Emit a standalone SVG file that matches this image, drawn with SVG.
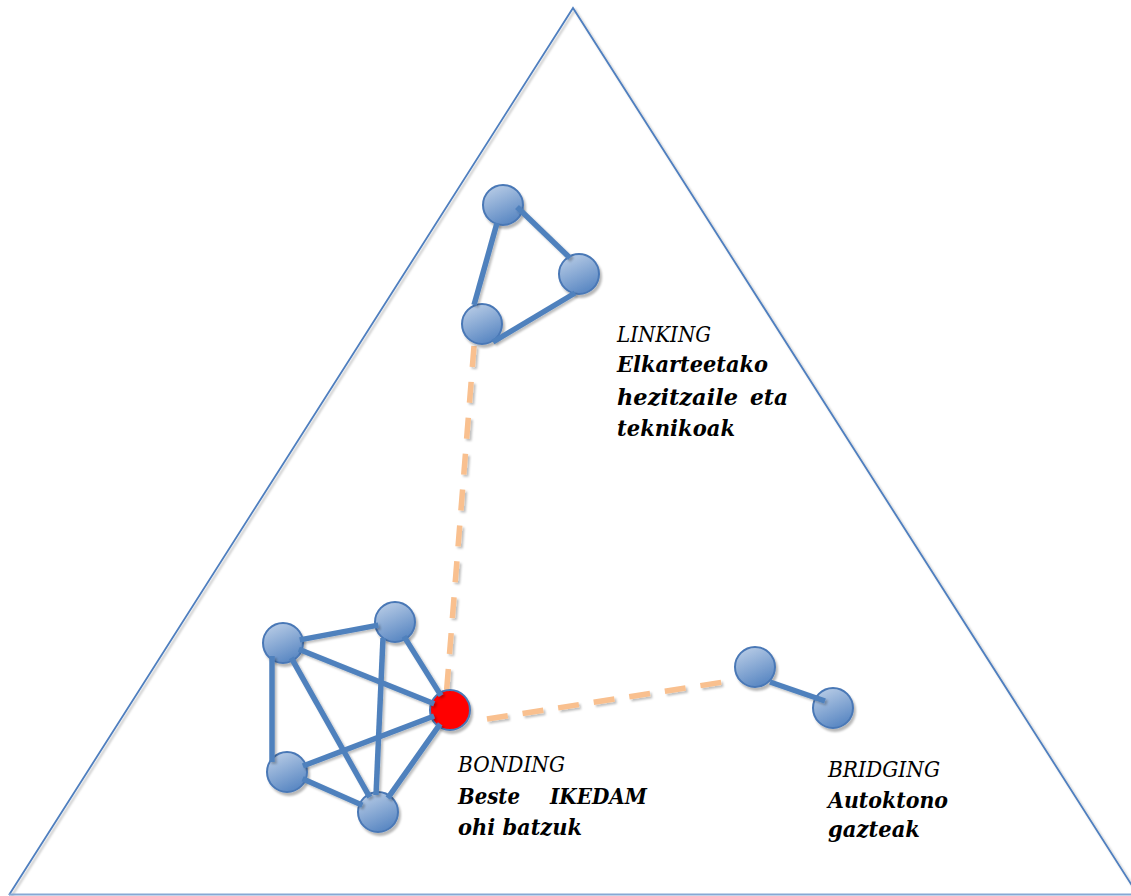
<svg xmlns="http://www.w3.org/2000/svg" width="1131" height="896" viewBox="0 0 1131 896">
  <defs>
    <linearGradient id="ball" x1="0.25" y1="0" x2="0.7" y2="1">
      <stop offset="0" stop-color="#b8cce6"/>
      <stop offset="1" stop-color="#5584c1"/>
    </linearGradient>
    <filter id="sh" x="-30%" y="-30%" width="160%" height="160%">
      <feDropShadow dx="2" dy="3" stdDeviation="1" flood-color="#000" flood-opacity="0.28"/>
    </filter>
    <filter id="shl" x="-10%" y="-10%" width="120%" height="120%">
      <feDropShadow dx="2" dy="2" stdDeviation="0.8" flood-color="#000" flood-opacity="0.25"/>
    </filter>
  </defs>
  <style>
    .tri { fill: none; stroke: #4f7fbf; stroke-width: 1.8; }
    .edge { stroke: #4f81bd; stroke-width: 5.5; stroke-linecap: butt; fill: none; }
    .dash { stroke: #f9c08f; stroke-width: 5.5; stroke-dasharray: 21 15; fill: none; }
    .node { fill: url(#ball); stroke: #4a78b6; stroke-width: 2; }
    .red { fill: #ff0000; stroke: #4a78b6; stroke-width: 2; }
    .t { font-family: "DejaVu Serif", "Liberation Serif", serif; font-size: 22px; font-style: italic; fill: #000; }
    .b { font-weight: bold; }
  </style>
  <rect width="1131" height="896" fill="#ffffff"/>

  <g id="triangle">
    <path class="tri" d="M 9 895 L 573 8 L 1138 895" filter="url(#shl)"/>
    <line x1="9" y1="894.5" x2="1131" y2="894.5" stroke="#86a8d4" stroke-width="2"/>
  </g>

  <g id="dashed-connectors" filter="url(#shl)">
    <line class="dash" x1="474" y1="346" x2="446" y2="698"/>
    <line class="dash" x1="487" y1="719" x2="730" y2="681"/>
  </g>

  <g id="bonding" filter="url(#sh)">
    <circle class="node" cx="283" cy="643" r="20"/>
    <circle class="node" cx="395" cy="622" r="20"/>
    <circle class="node" cx="287" cy="772" r="20"/>
    <circle class="node" cx="378" cy="812" r="20"/>
    <circle class="red" cx="450" cy="710" r="20"/>
  </g>

  <g id="linking" filter="url(#sh)">
    <circle class="node" cx="503" cy="205" r="20"/>
    <circle class="node" cx="579" cy="274" r="20"/>
    <circle class="node" cx="482" cy="324" r="20"/>
  </g>

  <g id="bridging" filter="url(#sh)">
    <circle class="node" cx="755" cy="667" r="20"/>
    <circle class="node" cx="833" cy="708" r="20"/>
  </g>

  <g id="connectors" filter="url(#shl)">
    <line class="edge" x1="299.7" y1="639.9" x2="378.3" y2="625.1"/>
    <line class="edge" x1="272" y1="656" x2="272" y2="762"/>
    <line class="edge" x1="298.8" y1="649.3" x2="434.2" y2="703.7"/>
    <line class="edge" x1="291.3" y1="657.8" x2="369.7" y2="797.2"/>
    <line class="edge" x1="404" y1="636.4" x2="441" y2="695.6"/>
    <line class="edge" x1="383" y1="638" x2="376" y2="795"/>
    <line class="edge" x1="302.9" y1="766" x2="434.1" y2="716"/>
    <line class="edge" x1="302.6" y1="778.8" x2="362.4" y2="805.2"/>
    <line class="edge" x1="387.8" y1="798.1" x2="440.2" y2="723.9"/>
    <line class="edge" x1="497" y1="223" x2="474" y2="305"/>
    <line class="edge" x1="517" y1="207" x2="570" y2="258"/>
    <line class="edge" x1="575" y1="293" x2="493" y2="342"/>
    <line class="edge" x1="770" y1="682" x2="825" y2="701"/>
  </g>

  <g id="label-linking">
    <text class="t" x="617" y="342" textLength="94" lengthAdjust="spacingAndGlyphs">LINKING</text>
    <text class="t b" x="617" y="372" textLength="151" lengthAdjust="spacingAndGlyphs">Elkarteetako</text>
    <text class="t b" x="617" y="405" textLength="121" lengthAdjust="spacingAndGlyphs">hezitzaile</text>
    <text class="t b" x="750" y="405" textLength="38" lengthAdjust="spacingAndGlyphs">eta</text>
    <text class="t b" x="617" y="436" textLength="118" lengthAdjust="spacingAndGlyphs">teknikoak</text>
  </g>

  <g id="label-bonding">
    <text class="t" x="458" y="772" textLength="107" lengthAdjust="spacingAndGlyphs">BONDING</text>
    <text class="t b" x="458" y="804" textLength="62" lengthAdjust="spacingAndGlyphs">Beste</text>
    <text class="t b" x="550" y="804" textLength="97" lengthAdjust="spacingAndGlyphs">IKEDAM</text>
    <text class="t b" x="458" y="835" textLength="124" lengthAdjust="spacingAndGlyphs">ohi batzuk</text>
  </g>

  <g id="label-bridging">
    <text class="t" x="828" y="777" textLength="112" lengthAdjust="spacingAndGlyphs">BRIDGING</text>
    <text class="t b" x="828" y="808" textLength="120" lengthAdjust="spacingAndGlyphs">Autoktono</text>
    <text class="t b" x="828" y="837" textLength="92" lengthAdjust="spacingAndGlyphs">gazteak</text>
  </g>
</svg>
